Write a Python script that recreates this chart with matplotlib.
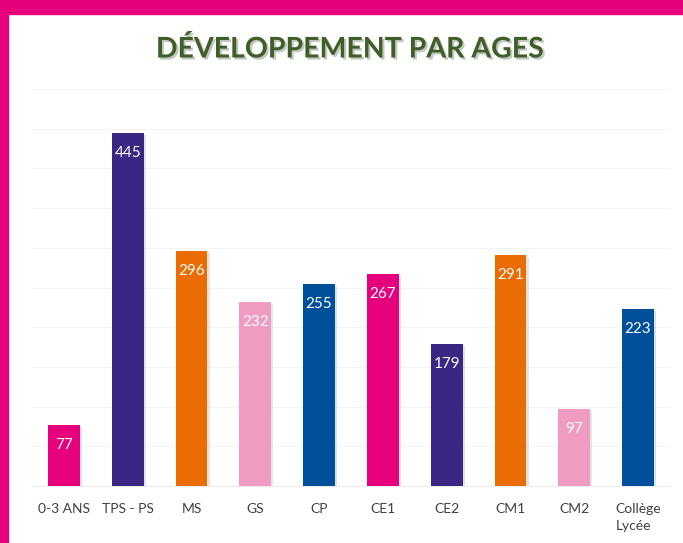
import matplotlib

matplotlib.use("Agg")
import matplotlib.pyplot as plt
import matplotlib.patheffects as pe
from matplotlib.patches import Rectangle

categories = ["0-3 ANS", "TPS - PS", "MS", "GS", "CP", "CE1", "CE2", "CM1", "CM2", "Collège\nLycée"]
values = [77, 445, 296, 232, 255, 267, 179, 291, 97, 223]
colors = ["#E6007E", "#3B2683", "#EC6C04", "#F09BC2", "#004F9A",
          "#E6007E", "#3B2683", "#EC6C04", "#F09BC2", "#004F9A"]

plt.rcParams["font.family"] = ["Lato", "DejaVu Sans"]

fig = plt.figure(figsize=(6.83, 5.43), dpi=100)
ax = fig.add_axes([32 / 683, 57 / 543, 638 / 683, 397 / 543])

# pink frame on top and left
fig.patches.append(Rectangle((0, 1 - 14 / 543), 1, 14 / 543, transform=fig.transFigure,
                             color="#E6007E", zorder=5))
fig.patches.append(Rectangle((0, 0), 8 / 683, 1, transform=fig.transFigure,
                             color="#E6007E", zorder=5))

x = range(len(categories))
bars = ax.bar(x, values, width=0.5, color=colors, zorder=3,
              path_effects=[pe.SimplePatchShadow(offset=(1.5, -1.5), alpha=0.12), pe.Normal()])

for b, v in zip(bars, values):
    ax.annotate(str(v), (b.get_x() + b.get_width() / 2, v), xytext=(0, -14.5),
                textcoords="offset points", ha="center", va="center",
                color="white", fontsize=11, zorder=4)

ax.set_xlim(-0.5, len(categories) - 0.5)
ax.set_ylim(0, 500)
ax.set_yticks(range(0, 501, 50))
ax.yaxis.grid(True, color="#f4f4f4", linewidth=0.8, zorder=0)
ax.tick_params(axis="y", left=False, labelleft=False)
ax.tick_params(axis="x", length=0, pad=12, labelsize=10, labelcolor="#404040")
ax.set_xticks(list(x))
ax.set_xticklabels(categories, va="top", multialignment="left", linespacing=1.5)
for s in ["top", "right", "left"]:
    ax.spines[s].set_visible(False)
ax.spines["bottom"].set_color("#ececec")

fig.text(0.512, 1 - 49 / 543, "DÉVELOPPEMENT PAR AGES", ha="center", va="center",
         fontsize=20.5, fontweight="bold", color="#3F5F28",
         path_effects=[pe.withSimplePatchShadow(offset=(1.5, -1.5), alpha=0.25)])

fig.savefig("out.png", dpi=100)
